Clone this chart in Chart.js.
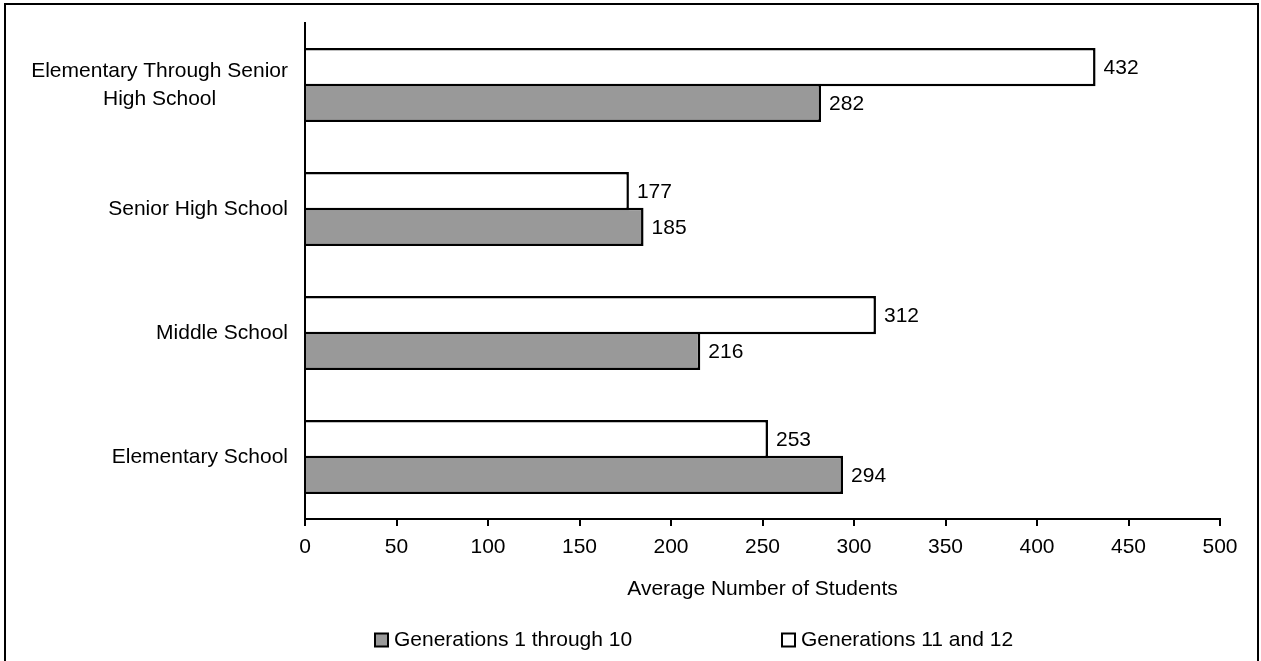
<!DOCTYPE html>
<html>
<head>
<meta charset="utf-8">
<script src="https://cdn.jsdelivr.net/npm/chart.js@4/dist/chart.umd.min.js"></script>
<style>
  html, body { margin: 0; padding: 0; background: #fff; }
  #wrap { width: 1261px; height: 661px; position: relative; }
</style>
</head>
<body>
<div id="wrap"><canvas id="c" width="1261" height="661"></canvas></div>
<script>
// School levels, top to bottom
const categories = [
  ["Elementary Through Senior", "High School"],
  "Senior High School",
  "Middle School",
  "Elementary School"
];
// Average number of students per school
const gen1to10 = [282, 185, 216, 294];
const gen11and12 = [432, 177, 312, 253];
const xTickValues = [0, 50, 100, 150, 200, 250, 300, 350, 400, 450, 500];
const seriesNames = ["Generations 1 through 10", "Generations 11 and 12"];
const axisTitle = "Average Number of Students";

const FONT = "'Liberation Sans', Arial, sans-serif";
const FONT_SIZE = 21;

// white page with a black frame around it
const framePlugin = {
  id: 'frame',
  beforeDraw(chart) {
    const ctx = chart.ctx;
    ctx.save();
    ctx.fillStyle = '#fff';
    ctx.fillRect(0, 0, chart.width, chart.height);
    ctx.restore();
  },
  afterDraw(chart) {
    const ctx = chart.ctx;
    ctx.save();
    ctx.strokeStyle = '#000';
    ctx.lineWidth = 2;
    ctx.strokeRect(5, 4, 1253, 700);
    ctx.restore();
  }
};

// category names beside the vertical axis; wrapped names are centred line by line
const categoryLabelPlugin = {
  id: 'categoryLabels',
  afterDraw(chart) {
    const ctx = chart.ctx;
    const y = chart.scales.y;
    const right = chart.chartArea.left - 17;
    const lineGap = 28;
    ctx.save();
    ctx.font = FONT_SIZE + 'px ' + FONT;
    ctx.fillStyle = '#000';
    ctx.textBaseline = 'middle';
    chart.data.labels.forEach((lab, i) => {
      const cy = y.getPixelForTick(i);
      const lines = Array.isArray(lab) ? lab : [lab];
      const widest = Math.max(...lines.map(l => ctx.measureText(l).width));
      const cx = right - widest / 2;
      ctx.textAlign = 'center';
      lines.forEach((l, k) => {
        const ly = cy + (k - (lines.length - 1) / 2) * lineGap;
        ctx.fillText(l, cx, ly);
      });
    });
    ctx.restore();
  }
};

// value printed just past the end of each bar
const valueLabelPlugin = {
  id: 'valueLabels',
  afterDatasetsDraw(chart) {
    const ctx = chart.ctx;
    ctx.save();
    ctx.font = FONT_SIZE + 'px ' + FONT;
    ctx.fillStyle = '#000';
    ctx.textAlign = 'left';
    ctx.textBaseline = 'middle';
    chart.data.datasets.forEach((ds, di) => {
      const meta = chart.getDatasetMeta(di);
      meta.data.forEach((bar, i) => {
        ctx.fillText(String(ds.data[i]), bar.x + 8, bar.y + 1);
      });
    });
    ctx.restore();
  }
};

// legend row under the axis title
const legendPlugin = {
  id: 'bottomLegend',
  afterDraw(chart) {
    const ctx = chart.ctx;
    const order = [1, 0];
    const boxX = [375, 782];
    const cy = 640;
    const box = 13;
    ctx.save();
    ctx.font = FONT_SIZE + 'px ' + FONT;
    ctx.textAlign = 'left';
    ctx.textBaseline = 'middle';
    order.forEach((di, k) => {
      const ds = chart.data.datasets[di];
      ctx.fillStyle = ds.backgroundColor;
      ctx.fillRect(boxX[k], cy - box / 2, box, box);
      ctx.strokeStyle = '#000';
      ctx.lineWidth = 2;
      ctx.strokeRect(boxX[k], cy - box / 2, box, box);
      ctx.fillStyle = '#000';
      ctx.fillText(ds.label, boxX[k] + box + 6, cy);
    });
    ctx.restore();
  }
};

new Chart(document.getElementById('c'), {
  type: 'bar',
  data: {
    labels: categories,
    datasets: [
      {
        label: seriesNames[1],
        data: gen11and12,
        backgroundColor: '#ffffff',
        borderColor: '#000000',
        borderWidth: 2.5,
        borderSkipped: 'start'
      },
      {
        label: seriesNames[0],
        data: gen1to10,
        backgroundColor: '#999999',
        borderColor: '#000000',
        borderWidth: 2.5,
        borderSkipped: 'start'
      }
    ]
  },
  options: {
    indexAxis: 'y',
    responsive: false,
    animation: false,
    devicePixelRatio: 1,
    categoryPercentage: 0.575,
    barPercentage: 1.07,
    layout: { padding: { top: 23, right: 41, left: 0, bottom: 57 } },
    plugins: {
      legend: { display: false },
      tooltip: { enabled: false }
    },
    scales: {
      x: {
        min: 0,
        max: 500,
        afterBuildTicks(scale) {
          scale.ticks = xTickValues.map(v => ({ value: v }));
        },
        afterFit(scale) { scale.height = 85; },
        ticks: {
          color: '#000',
          font: { family: FONT, size: FONT_SIZE },
          padding: 9,
          maxRotation: 0,
          autoSkip: false
        },
        grid: {
          drawOnChartArea: false,
          drawTicks: true,
          tickLength: 7,
          color: '#000',
          lineWidth: 2
        },
        border: { display: true, color: '#000', width: 2 },
        title: {
          display: true,
          text: axisTitle,
          color: '#000',
          font: { family: FONT, size: FONT_SIZE },
          padding: { top: 4, bottom: 2 }
        }
      },
      y: {
        afterFit(scale) { scale.width = 305; },
        ticks: { display: false },
        grid: { display: false, drawTicks: false },
        border: { display: true, color: '#000', width: 2 }
      }
    }
  },
  plugins: [framePlugin, categoryLabelPlugin, valueLabelPlugin, legendPlugin]
});
</script>
</body>
</html>
